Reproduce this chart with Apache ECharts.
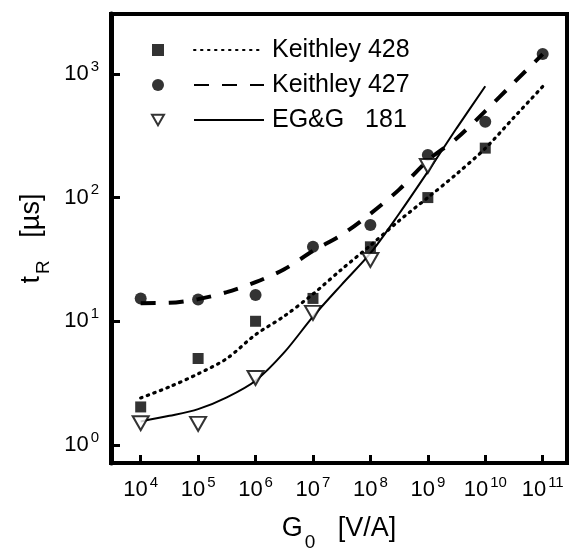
<!DOCTYPE html>
<html><head><meta charset="utf-8">
<script src="https://cdn.jsdelivr.net/npm/echarts@6/dist/echarts.min.js"></script>
<style>html,body{margin:0;padding:0;background:#fff}#c{width:570px;height:558px}</style>
</head><body><div id="c"></div>
<script>
// ---- data ----
const fitX   = [1e4, 3.16e4, 1e5, 3.16e5, 1e6, 3.16e6, 1e7, 3.16e7, 1e8, 3.16e8, 1e9, 3.16e9, 1e10, 3.16e10, 1e11];
const fit428 = [2.4, 2.95, 3.76, 5.0, 7.8, 11, 16.6, 26.3, 41, 65, 100, 155, 250, 445, 790];
const fit427 = [14, 14.1, 15.1, 17.2, 20.7, 26.3, 37, 50, 74, 116, 200, 300, 500, 850, 1445];
const fitEGG = [1.55, 1.72, 1.95, 2.43, 3.31, 5.6, 10.9, 19.8, 35.5, 74, 162, 363, 794];
const measX  = [1e4, 1e5, 1e6, 1e7, 1e8, 1e9, 1e10, 1e11];
const pts428 = [2.03, 5.0, 10, 15.3, 40, 100, 251];
const pts427 = [15.3, 15, 16.3, 40, 60, 221, 410, 1450];
const ptsEGG = [1.5, 1.48, 3.48, 11.7, 31.3, 180];
const lineNames = ['Keithley 428', 'Keithley 427', 'EG&G   181'];
const ptNames = ['p428', 'p427', 'pEGG'];

const FONT = 'Liberation Sans, Arial, sans-serif';
const pair = (xs, ys) => ys.map((y, i) => [xs[i], y]);

function supFmt(v) {
  const e = Math.log10(v), r = Math.round(e);
  if (Math.abs(e - r) > 1e-6) return '';
  return '{b|10}{e|' + r + '}';
}
const tickRich = {
  b: { fontSize: 22, fontFamily: FONT, color: '#000', lineHeight: 30 },
  e: { fontSize: 15, fontFamily: FONT, color: '#000', lineHeight: 15, verticalAlign: 'top', padding: [0, 0, 0, 2] }
};

const chart = echarts.init(document.getElementById('c'), null, { renderer: 'canvas' });
chart.setOption({
  animation: false,
  backgroundColor: '#fff',
  color: ['#000'],
  grid: { left: 111, right: 3, top: 14, bottom: 95, show: true, borderColor: '#000', borderWidth: 4, backgroundColor: 'transparent' },
  legend: [
    { data: [ptNames[0], ptNames[1], { name: ptNames[2], icon: 'path://M0,0 L16,0 L8,14 Z' }],
      orient: 'vertical', left: 146, top: 32, itemWidth: 12, itemHeight: 12, itemGap: 9,
      formatter: () => ' ', selectedMode: false, textStyle: { fontSize: 24, lineHeight: 26, fontFamily: FONT } },
    { data: lineNames, orient: 'vertical', left: 188, top: 32, itemWidth: 70, itemHeight: 12, itemGap: 9,
      itemStyle: { opacity: 0 }, selectedMode: false,
      textStyle: { fontSize: 25, lineHeight: 26, fontFamily: FONT, color: '#000', padding: [0, 0, 0, 3] } }
  ],
  xAxis: {
    type: 'log', logBase: 10, min: 3041, max: 2.65e11,
    axisLine: { show: true, lineStyle: { color: '#000', width: 4 } },
    axisTick: { show: true, inside: true, length: 8, lineStyle: { color: '#000', width: 3 } },
    minorTick: { show: false }, splitLine: { show: false },
    axisLabel: { formatter: supFmt, rich: tickRich, margin: 12, showMinLabel: false, showMaxLabel: false },
    name: '{g|G}{s|0}{g|   [V/A]}', nameLocation: 'middle', nameGap: 50,
    nameTextStyle: { rich: {
      g: { fontSize: 27, fontFamily: FONT, color: '#000', lineHeight: 32 },
      s: { fontSize: 19, fontFamily: FONT, color: '#000', lineHeight: 19, verticalAlign: 'bottom', padding: [0, 0, -7, 2] }
    } }
  },
  yAxis: {
    type: 'log', logBase: 10, min: 0.715, max: 3048,
    axisLine: { show: true, lineStyle: { color: '#000', width: 5 } },
    axisTick: { show: true, inside: true, length: 9, lineStyle: { color: '#000', width: 3 } },
    minorTick: { show: false }, splitLine: { show: false },
    axisLabel: { formatter: supFmt, rich: tickRich, margin: 12, showMinLabel: false, showMaxLabel: false },
    name: '{t|t}{s|R}{t|   [µs]}', nameLocation: 'middle', nameRotate: 90, nameGap: 62,
    nameTextStyle: { rich: {
      t: { fontSize: 27, fontFamily: FONT, color: '#000', lineHeight: 32 },
      s: { fontSize: 19, fontFamily: FONT, color: '#000', lineHeight: 19, verticalAlign: 'bottom', padding: [0, 0, -6, 2] }
    } }
  },
  series: [
    { name: lineNames[0], type: 'line', data: pair(fitX, fit428), smooth: 0.3, symbol: 'none', z: 2,
      itemStyle: { color: '#000' }, lineStyle: { color: '#000', width: 3.2, type: [1.5, 5.5], cap: 'round' } },
    { name: lineNames[1], type: 'line', data: pair(fitX, fit427), smooth: 0.3, symbol: 'none', z: 2,
      itemStyle: { color: '#000' }, lineStyle: { color: '#000', width: 4, type: [15, 13] } },
    { name: lineNames[2], type: 'line', data: pair(fitX, fitEGG), smooth: 0.3, symbol: 'none', z: 2,
      itemStyle: { color: '#000' }, lineStyle: { color: '#000', width: 2 } },
    { name: ptNames[0], type: 'scatter', data: pair(measX, pts428), symbol: 'rect', symbolSize: 11, z: 3,
      itemStyle: { color: '#000' } },
    { name: ptNames[1], type: 'scatter', data: pair(measX, pts427), symbol: 'circle', symbolSize: 12, z: 3,
      itemStyle: { color: '#000' } },
    { name: ptNames[2], type: 'scatter', data: pair(measX, ptsEGG), symbol: 'triangle', symbolRotate: 180, symbolSize: [16, 14], z: 4,
      itemStyle: { color: '#fff', borderColor: '#000', borderWidth: 2 } }
  ]
});
</script></body></html>
